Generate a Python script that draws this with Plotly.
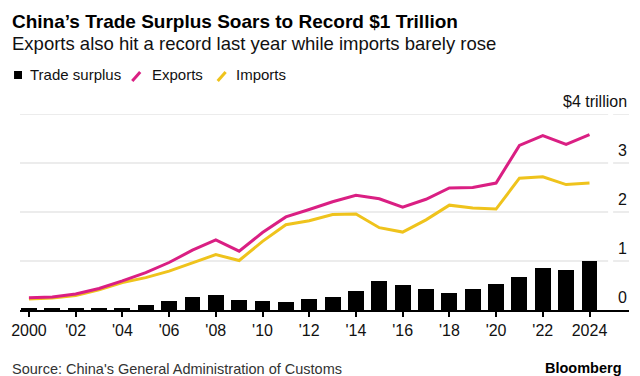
import plotly.graph_objects as go

# ---- data (US$ trillion) ----
years = list(range(2000, 2025))
exports = [0.249, 0.266, 0.326, 0.438, 0.593, 0.762, 0.969, 1.22, 1.43, 1.20,
           1.58, 1.90, 2.05, 2.21, 2.34, 2.27, 2.10, 2.26, 2.49, 2.50,
           2.59, 3.36, 3.56, 3.38, 3.58]
imports = [0.225, 0.244, 0.295, 0.413, 0.561, 0.660, 0.792, 0.956, 1.13, 1.01,
           1.40, 1.74, 1.82, 1.95, 1.96, 1.68, 1.59, 1.84, 2.14, 2.08,
           2.06, 2.69, 2.72, 2.56, 2.59]
surplus = [0.024, 0.023, 0.030, 0.025, 0.032, 0.102, 0.177, 0.262, 0.298, 0.196,
           0.182, 0.155, 0.231, 0.259, 0.383, 0.594, 0.510, 0.420, 0.351, 0.421,
           0.535, 0.676, 0.860, 0.823, 0.992]
series_names = ["Trade surplus", "Exports", "Imports"]
x_tick_vals = list(range(2000, 2025, 2))
x_tick_text = ["2000", "'02", "'04", "'06", "'08", "'10", "'12", "'14", "'16",
               "'18", "'20", "'22", "2024"]
y_tick_vals = [0, 1, 2, 3, 4]
y_tick_text = ["0", "1", "2", "3", "$4 trillion"]

title = "China’s Trade Surplus Soars to Record $1 Trillion"
subtitle = "Exports also hit a record last year while imports barely rose"
source = "Source: China's General Administration of Customs"

C_SURPLUS = "#000000"
C_EXPORTS = "#DA1F83"
C_IMPORTS = "#EFC31C"
FONT = "Liberation Sans, Arial, Helvetica, sans-serif"

W, H = 640, 376
ML, MR, MT, MB = 16, 11, 114, 66
PW = W - ML - MR
PH = H - MT - MB


def px_x(px):
    return (px - ML) / PW


def px_y(py):
    return (H - MB - py) / PH


fig = go.Figure()
fig.add_trace(go.Bar(x=years, y=surplus, name=series_names[0], marker_color=C_SURPLUS,
                     marker_line_width=0, width=0.68, showlegend=False))
fig.add_trace(go.Scatter(x=years, y=imports, name=series_names[2], mode="lines",
                         line=dict(color=C_IMPORTS, width=3), showlegend=False))
fig.add_trace(go.Scatter(x=years, y=exports, name=series_names[1], mode="lines",
                         line=dict(color=C_EXPORTS, width=3), showlegend=False))

shapes = []
# gridlines with a small gap before the label column
for v in y_tick_vals[1:]:
    shapes.append(dict(type="line", xref="paper", yref="y", x0=0, x1=px_x(608), y0=v, y1=v,
                       line=dict(color="#d9d9d9", width=1), layer="below"))
    shapes.append(dict(type="line", xref="paper", yref="y", x0=px_x(613), x1=1, y0=v, y1=v,
                       line=dict(color="#d9d9d9", width=1), layer="below"))

# legend glyphs
shapes.append(dict(type="rect", xref="paper", yref="paper",
                   x0=px_x(10), x1=px_x(18), y0=px_y(79), y1=px_y(71),
                   fillcolor=C_SURPLUS, line=dict(width=0)))
shapes.append(dict(type="line", xref="paper", yref="paper",
                   x0=px_x(129), x1=px_x(137), y0=px_y(81), y1=px_y(72),
                   line=dict(color=C_EXPORTS, width=3)))
shapes.append(dict(type="line", xref="paper", yref="paper",
                   x0=px_x(215), x1=px_x(223), y0=px_y(81), y1=px_y(72),
                   line=dict(color=C_IMPORTS, width=3)))

annotations = []
annotations.append(dict(text="<b>" + title + "</b>", xref="paper", yref="paper",
                        x=px_x(6), y=px_y(22), xanchor="left", yanchor="middle",
                        showarrow=False, font=dict(size=19, color="#000", family=FONT)))
annotations.append(dict(text=subtitle, xref="paper", yref="paper",
                        x=px_x(6), y=px_y(44), xanchor="left", yanchor="middle",
                        showarrow=False, font=dict(size=18.5, color="#111", family=FONT)))
for name, xpx in zip(series_names, [24, 147, 231]):
    annotations.append(dict(text=name, xref="paper", yref="paper",
                            x=px_x(xpx), y=px_y(75), xanchor="left", yanchor="middle",
                            showarrow=False, font=dict(size=15, color="#111", family=FONT)))
for v, t in zip(y_tick_vals, y_tick_text):
    annotations.append(dict(text=t, xref="paper", yref="y", x=1, y=v,
                            xanchor="right", yanchor="middle", yshift=13,
                            showarrow=False, font=dict(size=16, color="#111", family=FONT)))
annotations.append(dict(text=source, xref="paper", yref="paper",
                        x=px_x(6), y=px_y(369), xanchor="left", yanchor="middle",
                        showarrow=False, font=dict(size=14.5, color="#333", family=FONT)))
annotations.append(dict(text="<b>Bloomberg</b>", xref="paper", yref="paper",
                        x=px_x(624), y=px_y(368), xanchor="right", yanchor="middle",
                        showarrow=False, font=dict(size=14.5, color="#000", family=FONT)))

fig.update_layout(
    width=W, height=H,
    margin=dict(l=ML, r=MR, t=MT, b=MB, pad=0),
    paper_bgcolor="white", plot_bgcolor="white",
    font=dict(family=FONT, color="#111"),
    shapes=shapes, annotations=annotations,
    hovermode=False, bargap=0,
    xaxis=dict(range=[2000 - 9 / 23.51, 2000 + (629 - 25) / 23.51],
               tickvals=x_tick_vals, ticktext=x_tick_text,
               ticks="outside", ticklen=5, tickwidth=1.5, tickcolor="#000",
               showline=True, linecolor="#000", linewidth=1.5,
               showgrid=False, zeroline=False, fixedrange=True,
               tickfont=dict(size=16, color="#111", family=FONT)),
    yaxis=dict(range=[0, 4], showgrid=False, zeroline=False, showticklabels=False,
               showline=False, fixedrange=True),
)

fig.write_html(
    "out.html",
    config={"displayModeBar": False},
    post_script="document.body.style.margin='0';document.body.style.overflow='hidden';",
)
